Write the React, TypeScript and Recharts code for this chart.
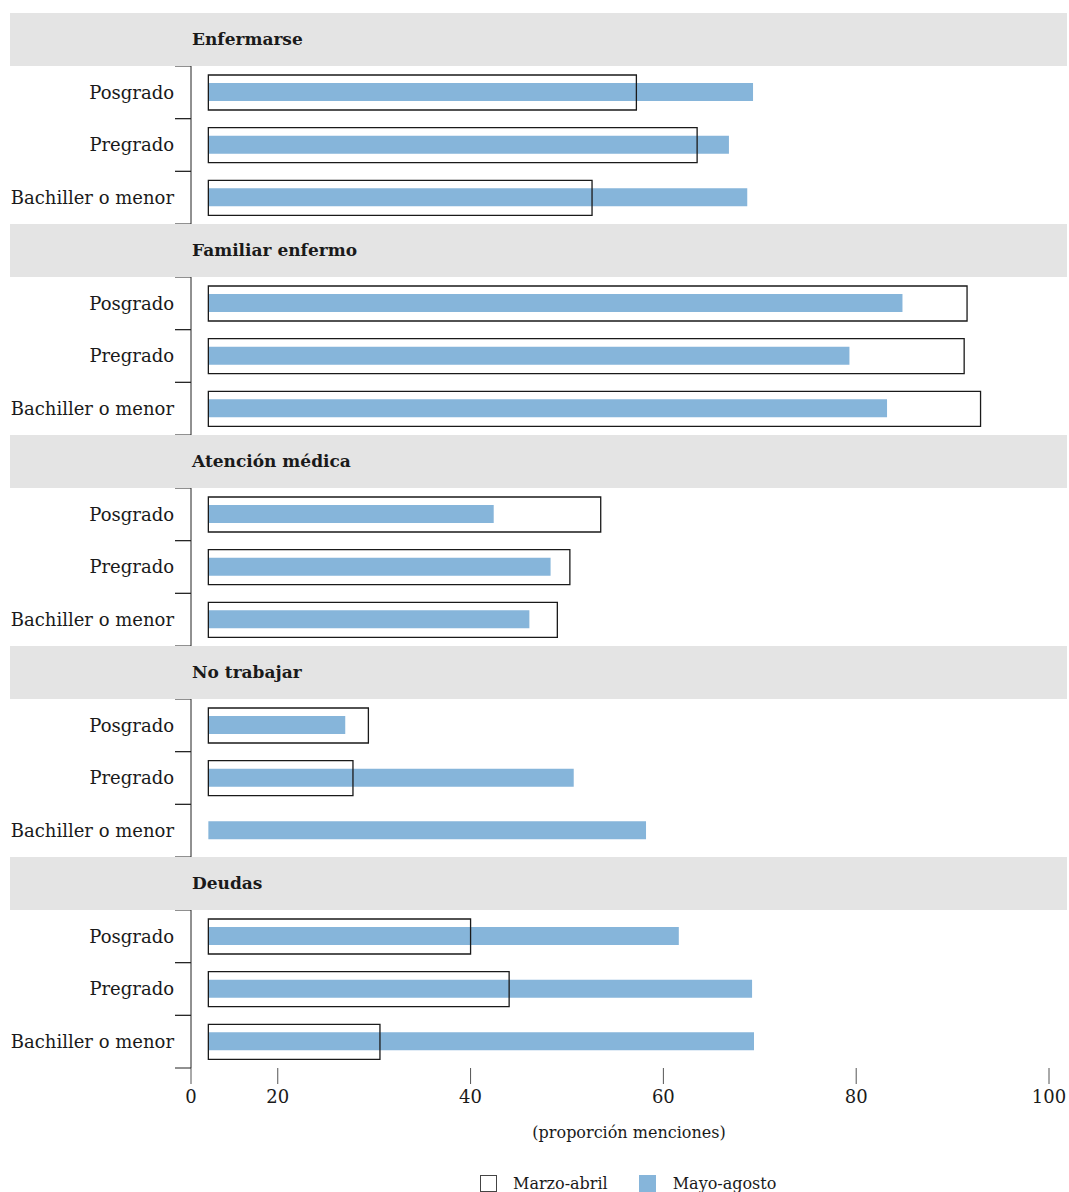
import React from "react"
import { BarChart, Bar, XAxis, YAxis } from "recharts"

// Niveles educativos (filas de cada panel)
const niveles = ["Posgrado", "Pregrado", "Bachiller o menor"]

// Paneles (motivos de preocupación)
const paneles = ["Enfermarse", "Familiar enfermo", "Atención médica", "No trabajar", "Deudas"]

// Marzo-abril: barra con contorno (null = sin barra)
const marzoAbril = [
  [57.2, 63.5, 52.6],
  [91.5, 91.2, 92.9],
  [53.5, 50.3, 49.0],
  [29.4, 27.8, null],
  [40.0, 44.0, 30.6],
]

// Mayo-agosto: barra azul
const mayoAgosto = [
  [69.3, 66.8, 68.7],
  [84.8, 79.3, 83.2],
  [42.4, 48.3, 46.1],
  [27.0, 50.7, 58.2],
  [61.6, 69.2, 69.4],
]

const xTicks = [20, 40, 60, 80, 100]
const X_MIN = 11 // origen del eje, rotulado "0" en el original
const BAR_BASE = 12.8 // las barras arrancan un poco a la derecha del eje

const FONT = '"DejaVu Serif", serif'
const TEXT = "#1a1a1a"
const AZUL = "#86b5da"
const GRIS = "#e4e4e4"

const W = 1069
const TOP = 13
const HEADER_H = 53
const ROWS_H = 158
const AXIS_H = 46
const AXIS_X = 191

function NivelTick({ y, payload }: any) {
  const half = ROWS_H / 6
  return (
    <g>
      <line x1={175} x2={AXIS_X} y1={y - half} y2={y - half} stroke="#222" strokeWidth={1} />
      <line x1={175} x2={AXIS_X} y1={y + half} y2={y + half} stroke="#222" strokeWidth={1} />
      <text x={174} y={y} dy="0.35em" textAnchor="end" fontFamily={FONT} fontSize={18} fill={TEXT}>
        {payload.value}
      </text>
    </g>
  )
}

function Panel({ index }: { index: number }) {
  const last = index === paneles.length - 1
  const top = TOP + index * (HEADER_H + ROWS_H)
  const data = niveles.map((nivel, i) => {
    const m = marzoAbril[index][i]
    return {
      nivel,
      marzo: m == null ? null : [BAR_BASE, m],
      mayo: [BAR_BASE, mayoAgosto[index][i]],
    }
  })

  return (
    <>
      <div
        style={{
          position: "absolute",
          left: 10,
          top,
          width: 1057,
          height: HEADER_H,
          background: GRIS,
          boxSizing: "border-box",
          paddingLeft: 182,
          lineHeight: HEADER_H + "px",
          fontFamily: FONT,
          fontWeight: "bold",
          fontSize: 17,
          color: TEXT,
        }}
      >
        {paneles[index]}
      </div>
      <div style={{ position: "absolute", left: 0, top: top + HEADER_H }}>
        <BarChart
          width={W}
          height={ROWS_H + (last ? AXIS_H : 0)}
          data={data}
          layout="vertical"
          margin={{ top: 0, right: 20, bottom: 0, left: 0 }}
        >
          <XAxis
            type="number"
            domain={[X_MIN, 100]}
            ticks={[X_MIN, ...xTicks]}
            tickFormatter={(v: number) => (v === X_MIN ? "0" : String(v))}
            hide={!last}
            height={AXIS_H}
            axisLine={false}
            tickSize={16}
            tickMargin={6}
            tickLine={{ stroke: "#555" }}
            tick={{ fontFamily: FONT, fontSize: 18, fill: TEXT }}
            interval={0}
          />
          <YAxis
            yAxisId="a"
            type="category"
            dataKey="nivel"
            width={AXIS_X}
            axisLine={{ stroke: "#222" }}
            tickLine={false}
            tick={<NivelTick />}
            interval={0}
          />
          <YAxis yAxisId="b" type="category" dataKey="nivel" hide />
          <Bar yAxisId="a" dataKey="mayo" fill={AZUL} barSize={18} isAnimationActive={false} />
          <Bar
            yAxisId="b"
            dataKey="marzo"
            fill="none"
            stroke={TEXT}
            strokeWidth={1.3}
            barSize={35}
            isAnimationActive={false}
          />
        </BarChart>
      </div>
    </>
  )
}

export default function App() {
  return (
    <div
      style={{
        position: "absolute",
        left: 0,
        top: 0,
        width: W,
        height: 1192,
        overflow: "hidden",
        background: "#fff",
        fontFamily: FONT,
        color: TEXT,
      }}
    >
      {paneles.map((p, i) => (
        <Panel key={p} index={i} />
      ))}

      <div
        style={{
          position: "absolute",
          left: 629,
          top: 1123,
          transform: "translateX(-50%)",
          fontSize: 16,
          whiteSpace: "nowrap",
        }}
      >
        (proporción menciones)
      </div>

      <div
        style={{
          position: "absolute",
          left: 480,
          top: 1174,
          display: "flex",
          alignItems: "center",
          fontSize: 16,
          whiteSpace: "nowrap",
        }}
      >
        <span style={{ width: 17, height: 17, border: "1px solid #444", boxSizing: "border-box", display: "inline-block" }} />
        <span style={{ marginLeft: 16 }}>Marzo-abril</span>
        <span style={{ width: 17, height: 17, background: AZUL, display: "inline-block", marginLeft: 31 }} />
        <span style={{ marginLeft: 17 }}>Mayo-agosto</span>
      </div>
    </div>
  )
}
